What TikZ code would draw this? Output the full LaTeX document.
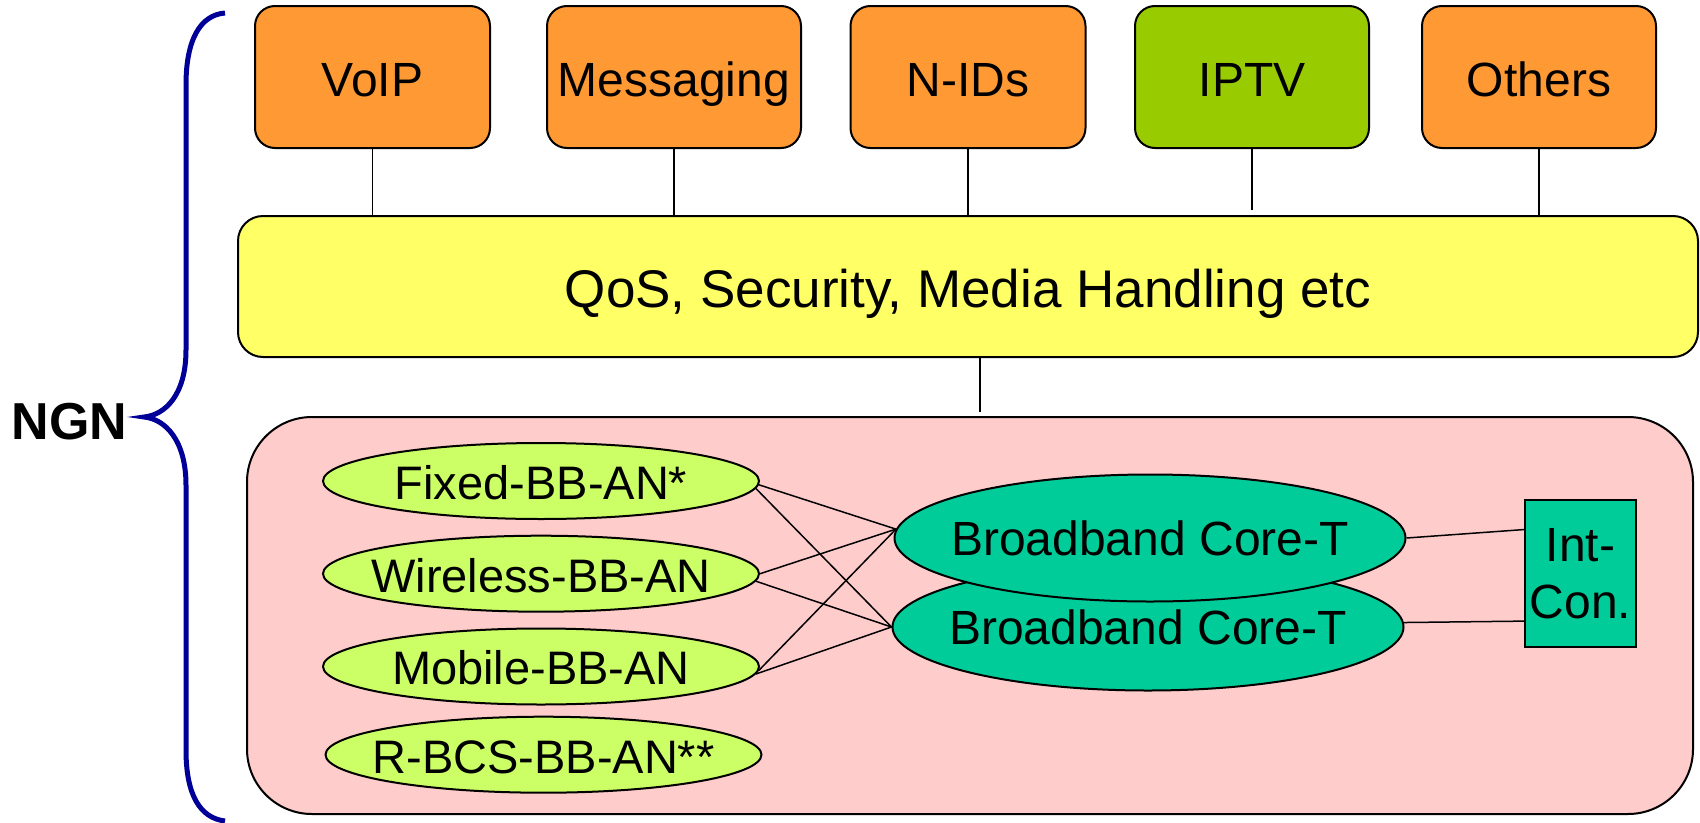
\documentclass[tikz,border=0pt]{standalone}
\usepackage{fontspec}
\setmainfont{Liberation Sans}
\usetikzlibrary{shapes.geometric,calc}
\definecolor{boxorange}{HTML}{FF9933}
\definecolor{boxgreen}{HTML}{99CC00}
\definecolor{qosyellow}{HTML}{FFFF66}
\definecolor{netpink}{HTML}{FFCCCC}
\definecolor{accgreen}{HTML}{CCFF66}
\definecolor{coreteal}{HTML}{00CC99}
\definecolor{bracecol}{HTML}{000099}
\tikzset{
  svcbox/.style={draw=black, line width=2pt, rounded corners=20pt, minimum height=142pt, inner sep=0pt, text height=44pt, text depth=6pt, font=\fontsize{48}{57}\selectfont},
  accnode/.style={ellipse, draw=black, line width=2pt, fill=accgreen, minimum width=436pt, minimum height=76pt, inner sep=0pt, text height=40pt, text depth=3.4pt, font=\fontsize{47}{56}\selectfont},
  corenode/.style={ellipse, draw=black, line width=2pt, fill=coreteal, minimum width=511pt, minimum height=127pt, inner sep=0pt, text height=40pt, text depth=6pt, font=\fontsize{48}{57}\selectfont},
  link/.style={draw=black, line width=1.5pt},
}
\begin{document}
\begin{tikzpicture}[x=1pt,y=-1pt]
\useasboundingbox (0,0) rectangle (1700,822);
% service boxes
\node[svcbox, fill=boxorange, minimum width=235pt] (voip) at (372.5,77) {VoIP};
\node[svcbox, fill=boxorange, minimum width=254pt] (msg) at (674,77) {Messaging};
\node[svcbox, fill=boxorange, minimum width=235pt] (nids) at (968,77) {N-IDs};
\node[svcbox, fill=boxgreen, minimum width=234pt] (iptv) at (1252,77) {IPTV};
\node[svcbox, fill=boxorange, minimum width=234pt] (others) at (1539,77) {Others};
% QoS layer
\node[draw=black, line width=2pt, rounded corners=25pt, fill=qosyellow, minimum width=1460pt, minimum height=141pt, inner sep=0pt, text height=47pt, text depth=6pt, font=\fontsize{53}{63}\selectfont] (qos) at (968,286.5) {QoS, Security, Media Handling etc};
% transport area
\node[draw=black, line width=2pt, rounded corners=65pt, fill=netpink, minimum width=1446pt, minimum height=397pt, inner sep=0pt] (pink) at (970,615.5) {};
% access ellipses
\node[accnode] (fixed) at (541,481) {\makebox[0pt]{Fixed-BB-AN*}};
\node[accnode] (wireless) at (541,573.7) {\makebox[0pt]{Wireless-BB-AN}};
\node[accnode] (mobile) at (541,666.5) {\makebox[0pt]{Mobile-BB-AN}};
\node[accnode] (rbcs) at (543.5,754.7) {\makebox[0pt]{R-BCS-BB-AN**}};
% core ellipses
\node[corenode] (coreB) at (1148,627) {\makebox[0pt]{Broadband Core-T}};
\node[corenode] (coreA) at (1150,538) {\makebox[0pt]{Broadband Core-T}};
% interconnect
\node[draw=black, line width=2pt, fill=coreteal, minimum width=111pt, minimum height=147pt, inner sep=0pt, align=center, font=\fontsize{48}{57}\selectfont] (intcon) at (1580.5,573.7) {\raisebox{-4pt}{Int-}\\\raisebox{-4pt}{Con.}};
% NGN label and brace
\node[font=\bfseries\fontsize{52}{60}\selectfont, inner sep=0pt] (ngn) at (69.5,422) {NGN};
\draw[bracecol, line width=5pt] (225,13) .. controls (200,15) and (186,40) .. (186,85) -- (186,350) .. controls (186,395) and (165,415) .. (144,417) .. controls (165,419) and (186,440) .. (186,485) -- (186,750) .. controls (186,795) and (200,818) .. (225,821);
% connectors top
\draw[link] (voip.south) -- (voip.south |- qos.north);
\draw[link] (msg.south) -- (msg.south |- qos.north);
\draw[link] (nids.south) -- (nids.south |- qos.north);
\coordinate (iptvend) at ($(iptv.south |- qos.north)+(0,-5)$);
\draw[link] (iptv.south) -- (iptvend);
\draw[link] (others.south) -- (others.south |- qos.north);
\coordinate (pinktop) at ($(pink.north)+(10,-4)$);
\draw[link] ([xshift=12pt]qos.south) -- (pinktop);
% access to core
\draw[link] (fixed.-1.6) -- (coreA.178.6);
\draw[link] (fixed.-2.6) -- (coreB.west);
\draw[link] (wireless.0) -- (coreA.178.6);
\draw[link] (wireless.-2.1) -- (coreB.west);
\draw[link] (mobile.-1.1) -- (coreA.178.6);
\draw[link] (mobile.-2.5) -- (coreB.west);
% core to interconnect
\draw[link] (coreA.0.9) -- (intcon.142.9);
\draw[link] (coreB.1.3) -- (intcon.220.4);
\end{tikzpicture}
\end{document}
